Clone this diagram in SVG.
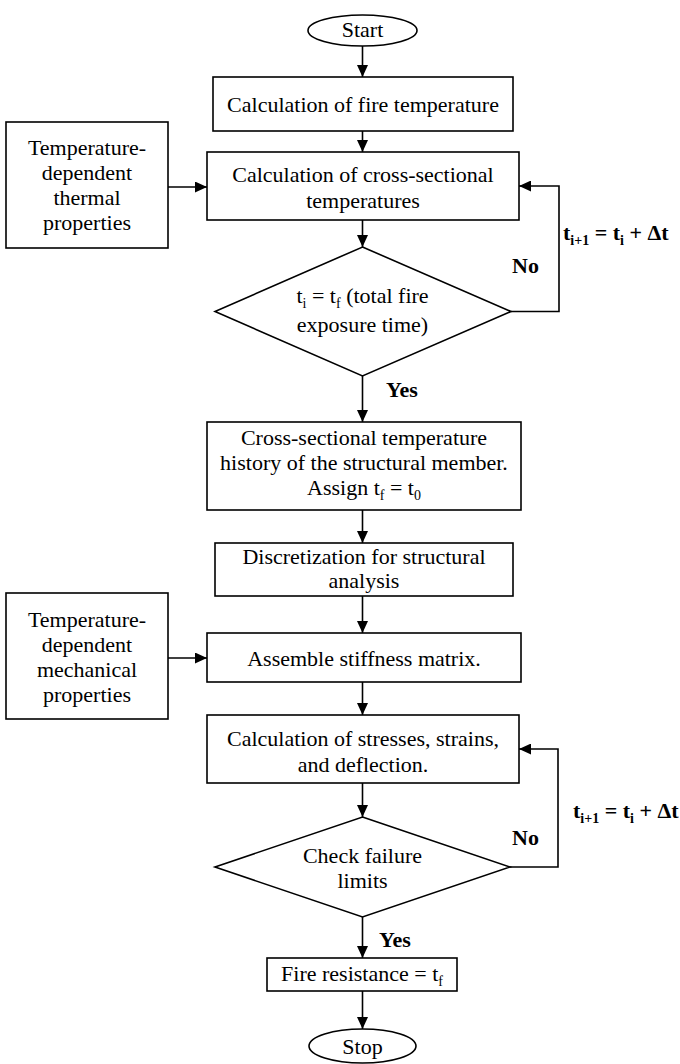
<svg xmlns="http://www.w3.org/2000/svg" width="680" height="1064" viewBox="0 0 680 1064">
<defs>
<marker id="ah" markerUnits="userSpaceOnUse" markerWidth="12" markerHeight="11" refX="12" refY="5.5" orient="auto">
<path d="M0,0 L12,5.5 L0,11 z" fill="#000"/>
</marker>
<style>
.s{fill:#fff;stroke:#000;stroke-width:1.6}
.t{font-family:"Liberation Serif","Times New Roman",serif;font-size:22px;fill:#000;text-anchor:middle}
.b{font-family:"Liberation Serif","Times New Roman",serif;font-size:22px;font-weight:bold;fill:#000}
.sub{font-size:14px}
.c{fill:none;stroke:#000;stroke-width:1.6;marker-end:url(#ah)}
</style>
</defs>
<rect width="680" height="1064" fill="#fff"/>
<g id="connectors">
<line class="c" x1="362.5" y1="46" x2="362.5" y2="77"/>
<line class="c" x1="362.5" y1="131" x2="362.5" y2="152"/>
<line class="c" x1="168" y1="187" x2="207" y2="187"/>
<line class="c" x1="362.5" y1="220" x2="362.5" y2="247"/>
<line class="c" x1="362.5" y1="376" x2="362.5" y2="422"/>
<polyline class="c" points="511,311.5 559,311.5 559,186 519,186"/>
<line class="c" x1="362.5" y1="510" x2="362.5" y2="543"/>
<line class="c" x1="362.5" y1="596" x2="362.5" y2="633"/>
<line class="c" x1="168" y1="658" x2="207" y2="658"/>
<line class="c" x1="362.5" y1="682" x2="362.5" y2="715"/>
<line class="c" x1="362.5" y1="783" x2="362.5" y2="817"/>
<polyline class="c" points="510,867 558,867 558,749 519,749"/>
<line class="c" x1="362.5" y1="917" x2="362.5" y2="958"/>
<line class="c" x1="362.5" y1="991" x2="362.5" y2="1029"/>
<text class="b" x="512" y="273">No</text>
<text class="b" x="386" y="397">Yes</text>
<text class="b" x="563" y="240">t<tspan class="sub" dy="5">i+1</tspan><tspan dy="-5"> = t</tspan><tspan class="sub" dy="5">i</tspan><tspan dy="-5"> + Δt</tspan></text>
<text class="b" x="512" y="845">No</text>
<text class="b" x="379" y="947">Yes</text>
<text class="b" x="573" y="818">t<tspan class="sub" dy="5">i+1</tspan><tspan dy="-5"> = t</tspan><tspan class="sub" dy="5">i</tspan><tspan dy="-5"> + Δt</tspan></text>
</g>
<g id="start">
<ellipse class="s" cx="362.5" cy="30.5" rx="54.5" ry="15.5"/>
<text class="t" x="362.5" y="37">Start</text>
</g>
<g id="fire-temp">
<rect class="s" x="213" y="77" width="300" height="54"/>
<text class="t" x="363" y="112">Calculation of fire temperature</text>
</g>
<g id="thermal-props">
<rect class="s" x="6" y="122" width="162" height="126"/>
<text class="t" x="87" y="155">Temperature-</text>
<text class="t" x="87" y="180">dependent</text>
<text class="t" x="87" y="205">thermal</text>
<text class="t" x="87" y="230">properties</text>
</g>
<g id="cross-temp">
<rect class="s" x="207" y="152" width="312" height="68"/>
<text class="t" x="363" y="182">Calculation of cross-sectional</text>
<text class="t" x="363" y="208">temperatures</text>
</g>
<g id="decision-time">
<polygon class="s" points="362.5,247 511,311.5 362.5,376 215,311.5"/>
<text class="t" x="362.5" y="303">t<tspan class="sub" dy="5">i</tspan><tspan dy="-5"> = t</tspan><tspan class="sub" dy="5">f</tspan><tspan dy="-5"> (total fire</tspan></text>
<text class="t" x="362.5" y="332">exposure time)</text>
</g>
<g id="history">
<rect class="s" x="207" y="422" width="314" height="88"/>
<text class="t" x="364" y="445">Cross-sectional temperature</text>
<text class="t" x="364" y="470">history of the structural member.</text>
<text class="t" x="364" y="495">Assign t<tspan class="sub" dy="5">f</tspan><tspan dy="-5"> = t</tspan><tspan class="sub" dy="5">0</tspan></text>
</g>
<g id="discretization">
<rect class="s" x="215" y="543" width="298" height="53"/>
<text class="t" x="364" y="564">Discretization for structural</text>
<text class="t" x="364" y="588">analysis</text>
</g>
<g id="mech-props">
<rect class="s" x="6" y="593" width="162" height="126"/>
<text class="t" x="87" y="627">Temperature-</text>
<text class="t" x="87" y="652">dependent</text>
<text class="t" x="87" y="677">mechanical</text>
<text class="t" x="87" y="702">properties</text>
</g>
<g id="stiffness">
<rect class="s" x="207" y="633" width="314" height="49"/>
<text class="t" x="364" y="666">Assemble stiffness matrix.</text>
</g>
<g id="stresses">
<rect class="s" x="207" y="715" width="312" height="68"/>
<text class="t" x="363" y="746">Calculation of stresses, strains,</text>
<text class="t" x="363" y="772">and deflection.</text>
</g>
<g id="decision-failure">
<polygon class="s" points="362.5,817 510,867 362.5,917 215,867"/>
<text class="t" x="362.5" y="863">Check failure</text>
<text class="t" x="362.5" y="888">limits</text>
</g>
<g id="fire-resistance">
<rect class="s" x="267" y="958" width="190" height="33"/>
<text class="t" x="362" y="981">Fire resistance = t<tspan class="sub" dy="5">f</tspan></text>
</g>
<g id="stop">
<ellipse class="s" cx="362.5" cy="1046" rx="53.5" ry="17"/>
<text class="t" x="362.5" y="1054">Stop</text>
</g>
</svg>
